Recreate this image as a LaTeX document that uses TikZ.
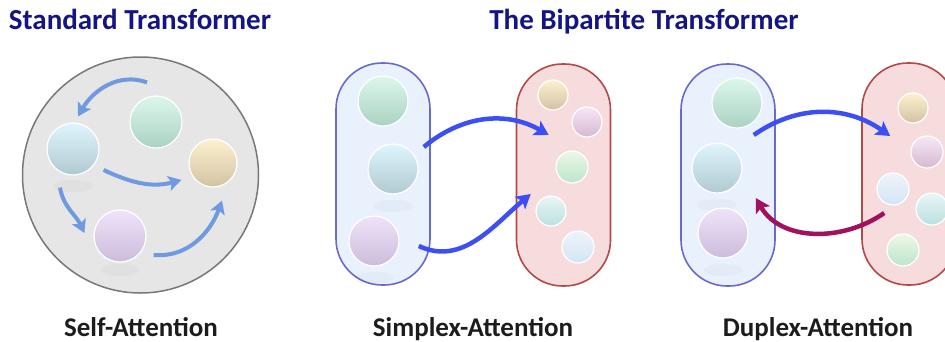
\documentclass[tikz,border=0pt]{standalone}
\usepackage{fontspec}
\setmainfont{Carlito}
\usetikzlibrary{arrows.meta}

\definecolor{titleblue}{HTML}{141482}
\definecolor{captiongray}{HTML}{1C1C1C}
\definecolor{stdfill}{HTML}{E6E6E6}
\definecolor{stdborder}{HTML}{787878}
\definecolor{qfill}{HTML}{E9F1FC}
\definecolor{qborder}{HTML}{6A6ACC}
\definecolor{kfill}{HTML}{F6DCDC}
\definecolor{kborder}{HTML}{B24A4A}
\definecolor{softblue}{HTML}{6F9AE0}
\definecolor{strongblue}{HTML}{3D4FF2}
\definecolor{plum}{HTML}{A0115E}

\begin{document}
\begin{tikzpicture}[x=1pt,y=1pt,
		heading/.style={font=\fontsize{29}{33}\selectfont\bfseries, text=titleblue, anchor=base},
		caption/.style={font=\fontsize{27}{31}\selectfont\bfseries, text=captiongray, anchor=base},
		ball/.style={circle, draw=white, line width=1.2pt, inner sep=0pt, minimum size=#1},
		greenball/.style={top color={rgb,255:red,220;green,247;blue,236}, bottom color={rgb,255:red,170;green,210;blue,194}},
		cyanball/.style={top color={rgb,255:red,224;green,245;blue,253}, bottom color={rgb,255:red,176;green,202;blue,210}},
		yellowball/.style={top color={rgb,255:red,253;green,241;blue,206}, bottom color={rgb,255:red,210;green,194;blue,164}},
		purpleball/.style={top color={rgb,255:red,239;green,227;blue,249}, bottom color={rgb,255:red,204;green,188;blue,220}},
		mintball/.style={top color={rgb,255:red,236;green,248;blue,230}, bottom color={rgb,255:red,190;green,228;blue,204}},
		tealball/.style={top color={rgb,255:red,232;green,246;blue,245}, bottom color={rgb,255:red,188;green,224;blue,224}},
		skyball/.style={top color={rgb,255:red,238;green,243;blue,251}, bottom color={rgb,255:red,212;green,229;blue,245}},
		mauveball/.style={top color={rgb,255:red,246;green,232;blue,246}, bottom color={rgb,255:red,214;green,184;blue,208}},
		querybox/.style={draw=qborder, fill=qfill, line width=1.6pt, rounded corners=46pt,
			minimum width=94pt, minimum height=222pt, inner sep=0pt},
		keybox/.style={draw=kborder, fill=kfill, line width=1.6pt, rounded corners=46pt,
			minimum width=94pt, minimum height=222pt, inner sep=0pt},
		stdarrow/.style={draw=softblue, line width=4pt, -{Stealth[length=13pt,width=15pt,inset=3pt]}},
		fwdarrow/.style={draw=strongblue, line width=4.5pt, -{Stealth[length=14pt,width=16pt,inset=3pt]}},
		backarrow/.style={draw=plum, line width=4.5pt, -{Stealth[length=14pt,width=16pt,inset=3pt]}},
		glow/.style={fill=black, opacity=0.025}
	]
	\clip (0,0) rectangle (945,-341);

	% headings
	\node[heading] (stdtitle) at (140,-29) {Standard Transformer};
	\node[heading] (biptitle) at (644,-29) {The Bipartite Transformer};

	% standard transformer
	\node[circle, draw=stdborder, fill=stdfill, line width=1.5pt, minimum size=236pt] (std) at (140.5,-175) {};
	\fill[glow] (73,-186) ellipse (20 and 6);
	\fill[glow] (120,-270) ellipse (20 and 6);
	\node[ball=52pt, greenball] (sg) at (156,-122) {};
	\node[ball=52pt, cyanball] (sc) at (73,-149) {};
	\node[ball=48pt, yellowball] (sy) at (213,-163) {};
	\node[ball=52pt, purpleball] (sp) at (120,-236) {};
	\draw[stdarrow] ([shift={(-9,13)}]sg.north) to[out=160,in=60] ([shift={(5,6)}]sc.north);
	\draw[stdarrow] ([shift={(4,-21)}]sc.east) to[out=-25,in=195] ([shift={(-7,-17)}]sy.west);
	\draw[stdarrow] ([shift={(-13,-12)}]sc.south) to[out=-80,in=115] ([shift={(-9,3)}]sp.west);
	\draw[stdarrow] ([shift={(7,-19)}]sp.east) to[out=-5,in=250] ([shift={(9,-13)}]sy.south);
	\node[caption] (selfcap) at (141,-336) {Self-Attention};

	% simplex attention
	\node[querybox] (sq) at (383,-174) {};
	\node[keybox] (sk) at (563.5,-175) {};
	\fill[glow] (393,-206) ellipse (20 and 6);
	\fill[glow] (374,-278) ellipse (20 and 6);
	\node[ball=50pt, greenball] (sq1) at (383,-101) {};
	\node[ball=50pt, cyanball] (sq2) at (393,-169) {};
	\node[ball=50pt, purpleball] (sq3) at (374,-241) {};
	\node[ball=30pt, yellowball] (sk1) at (553,-95) {};
	\node[ball=30pt, mauveball] (sk2) at (587,-122) {};
	\node[ball=32pt, mintball] (sk3) at (572,-167) {};
	\node[ball=30pt, tealball] (sk4) at (551,-211) {};
	\node[ball=32pt, skyball] (sk5) at (578,-247) {};
	\draw[fwdarrow] ([shift={(-7,27)}]sq.east) to[out=40,in=150] ([shift={(33,40)}]sk.west);
	\draw[fwdarrow] ([shift={(-12,-72)}]sq.east) to[out=-25,in=220] ([shift={(15,-19)}]sk.west);
	\node[caption] (simplexcap) at (473,-336) {Simplex-Attention};

	% duplex attention
	\node[querybox] (dq) at (728,-175) {};
	\node[keybox] (dk) at (909,-174) {};
	\fill[glow] (717,-205) ellipse (20 and 6);
	\fill[glow] (723,-270) ellipse (20 and 6);
	\node[ball=50pt, greenball] (dq1) at (737,-103) {};
	\node[ball=50pt, cyanball] (dq2) at (717,-168) {};
	\node[ball=50pt, purpleball] (dq3) at (723,-233) {};
	\node[ball=30pt, yellowball] (dk1) at (913,-108) {};
	\node[ball=32pt, mauveball] (dk2) at (927,-152) {};
	\node[ball=32pt, skyball] (dk3) at (893,-189) {};
	\node[ball=32pt, tealball] (dk4) at (932,-209) {};
	\node[ball=32pt, mintball] (dk5) at (903,-250) {};
	\draw[fwdarrow] ([shift={(-22,40)}]dq.east) to[out=35,in=145] ([shift={(29,38)}]dk.west);
	\draw[backarrow] ([shift={(23,-39)}]dk.west) to[out=215,in=-60] ([shift={(-20,-23)}]dq.east);
	\node[caption] (duplexcap) at (818,-336) {Duplex-Attention};
\end{tikzpicture}
\end{document}
